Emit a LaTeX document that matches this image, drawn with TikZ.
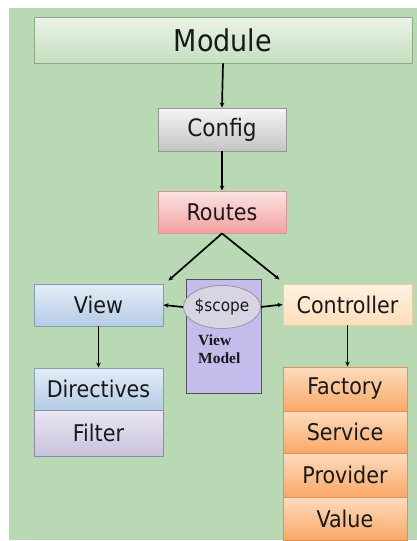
\documentclass[tikz,border=0pt]{standalone}
\usepackage{fontspec}
\setmainfont{DejaVu Sans Condensed}
\newfontfamily\vmfont{Liberation Serif}
\usetikzlibrary{arrows.meta,shapes.geometric}
\definecolor{bggreen}{RGB}{184,217,180}
\definecolor{txt}{RGB}{25,25,25}
\tikzset{
  box/.style={draw, line width=0.9pt, rectangle, inner sep=0pt, text=txt, font=\fontsize{23}{26}\selectfont},
  modbox/.style={box, draw={rgb,255:red,140;green,170;blue,135}, top color={rgb,255:red,236;green,242;blue,232}, bottom color={rgb,255:red,196;green,224;blue,190}},
  graybox/.style={box, draw={rgb,255:red,150;green,150;blue,150}, top color={rgb,255:red,245;green,245;blue,245}, bottom color={rgb,255:red,196;green,196;blue,196}},
  pinkbox/.style={box, draw={rgb,255:red,210;green,150;blue,150}, top color={rgb,255:red,252;green,228;blue,228}, bottom color={rgb,255:red,244;green,160;blue,160}},
  bluebox/.style={box, draw={rgb,255:red,135;green,155;blue,180}, top color={rgb,255:red,228;green,236;blue,246}, bottom color={rgb,255:red,180;green,204;blue,230}},
  lavbox/.style={box, draw={rgb,255:red,140;green,140;blue,165}, top color={rgb,255:red,234;green,230;blue,242}, bottom color={rgb,255:red,200;green,194;blue,222}},
  peachbox/.style={box, draw={rgb,255:red,235;green,205;blue,165}, top color={rgb,255:red,255;green,242;blue,224}, bottom color={rgb,255:red,252;green,222;blue,186}},
  orangebox/.style={box, draw={rgb,255:red,225;green,145;blue,80}, top color={rgb,255:red,253;green,220;blue,190}, bottom color={rgb,255:red,249;green,168;blue,104}},
  conn/.style={line width=1.7pt, draw=black, -{Stealth[length=5pt,width=4.5pt]}},
}
\begin{document}
\begin{tikzpicture}[x=1pt,y=-1pt]
\useasboundingbox (0,0) rectangle (417,541);
\fill[white] (0,0) rectangle (417,541);
\fill[bggreen] (9,8) rectangle (417,540);

\node[modbox, minimum width=378pt, minimum height=46pt, font=\fontsize{30}{33}\selectfont] (module) at (223,40) {Module};
\node[graybox, minimum width=128pt, minimum height=43pt, font=\fontsize{24}{27}\selectfont] (config) at (222,129.5) {Config};
\node[pinkbox, minimum width=128pt, minimum height=42pt] (routes) at (222,212) {Routes};

\node[bluebox, minimum width=129pt, minimum height=42pt] (view) at (98.5,305) {View};
\node[draw={rgb,255:red,80;green,80;blue,95}, line width=0.9pt, fill={rgb,255:red,196;green,188;blue,234}, minimum width=75pt, minimum height=114pt, inner sep=0pt] (vm) at (223.5,336) {};
\node[ellipse, draw={rgb,255:red,150;green,150;blue,160}, line width=0.8pt, fill={rgb,255:red,216;green,212;blue,228}, minimum width=67pt, minimum height=43pt, inner sep=0pt, text=txt, font=\fontsize{17}{19}\selectfont] (scope) at (222,307) {\$scope};
\node[anchor=north west, align=left, inner sep=0pt, text=txt, font=\vmfont\bfseries\fontsize{15.5}{18}\selectfont] (vmlabel) at (198,335) {View\\Model};
\node[peachbox, minimum width=129pt, minimum height=41pt] (controller) at (347.5,304.5) {Controller};

\node[bluebox, minimum width=129pt, minimum height=42pt] (directives) at (98.5,389) {Directives};
\node[lavbox, minimum width=129pt, minimum height=46pt] (filter) at (98.5,433) {Filter};

\node[orangebox, minimum width=124pt, minimum height=44pt] (factory) at (345,389) {Factory};
\node[orangebox, minimum width=124pt, minimum height=42pt] (service) at (345,432) {Service};
\node[orangebox, minimum width=124pt, minimum height=44pt] (provider) at (345,475) {Provider};
\node[orangebox, minimum width=124pt, minimum height=43pt] (value) at (345,518.5) {Value};

\draw[conn] (module.south) -- (config.north);
\draw[conn] (config.south) -- (routes.north);
\draw[conn] (routes.south) -- ([shift={(5,-3)}]view.north east);
\draw[conn] (routes.south) -- ([shift={(-3,-4)}]controller.north west);
\draw[conn] (scope.west) -- (view.east);
\draw[conn] (scope.east) -- (controller.west);
\draw[conn] (view.south) -- (directives.north);
\draw[conn] (controller.south) -- (controller.south |- factory.north);
\end{tikzpicture}
\end{document}
